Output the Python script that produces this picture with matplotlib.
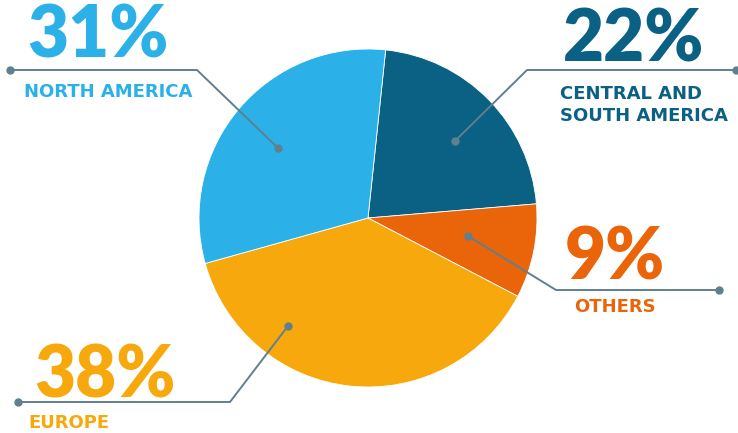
import matplotlib
matplotlib.use('Agg')
import matplotlib.pyplot as plt

# ---------------- DATA ----------------
regions = ["CENTRAL AND\nSOUTH AMERICA", "OTHERS", "EUROPE", "NORTH AMERICA"]
shares = [22, 9, 38, 31]
colors = ["#0A6183", "#EA650A", "#F6A80D", "#2BB1E7"]

W, H = 738, 433
LINE = "#5F808F"

fig = plt.figure(figsize=(W / 100, H / 100), dpi=100)
ax = fig.add_axes([0, 0, 1, 1])
ax.set_xlim(0, W)
ax.set_ylim(0, H)
ax.set_aspect('equal')
ax.axis('off')

# pie in pixel coordinates (y measured from bottom)
ax.pie(shares, colors=colors, startangle=84, counterclock=False,
       center=(368, H - 218), radius=169,
       wedgeprops=dict(linewidth=0.6, edgecolor='white'))
ax.set_xlim(0, W)
ax.set_ylim(0, H)


def py(y):
    return H - y


# ---------------- LEADER LINES ----------------
leaders = [
    [(278, 148), (197, 70), (10, 70)],     # north america
    [(455, 141), (527, 70), (736, 70)],    # central / south america
    [(468, 236), (556, 290), (719, 290)],  # others
    [(288, 326), (230, 402), (18, 402)],   # europe
]
for pts in leaders:
    xs = [p[0] for p in pts]
    ys = [py(p[1]) for p in pts]
    ax.plot(xs, ys, color=LINE, lw=1.4, solid_capstyle='round', zorder=3)
    ax.plot([xs[0], xs[-1]], [ys[0], ys[-1]], 'o', color=LINE, ms=5, zorder=4)

# ---------------- LABELS ----------------
big = dict(fontsize=51, fontweight='heavy', family='Lato', va='baseline', ha='left')
small = dict(fontsize=13, fontweight='bold', family='DejaVu Sans', va='baseline', ha='left')

# percentages and names, same order as shares
pct_pos = [(563, 61), (565, 279), (34, 397), (27, 57)]
name_pos = [(560, 121), (574, 312), (28, 428), (24, 97)]

for name, val, col, pp, npos in zip(regions, shares, colors, pct_pos, name_pos):
    ax.text(pp[0], py(pp[1]), f"{val}%", color=col, **big)
    ax.text(npos[0], py(npos[1]), name, color=col, linespacing=1.3, **small)

fig.savefig("out.png", dpi=100)
